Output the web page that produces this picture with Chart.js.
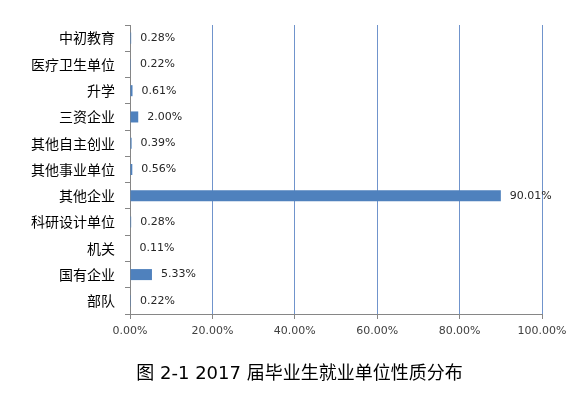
<!DOCTYPE html>
<html>
<head>
<meta charset="utf-8">
<script src="https://cdn.jsdelivr.net/npm/chart.js@4/dist/chart.umd.min.js"></script>
<style>
  html, body { margin: 0; padding: 0; background: #fff; }
  #wrap { width: 587px; height: 393px; }
</style>
</head>
<body>
<div id="wrap"><canvas id="unitChart" width="587" height="393"></canvas></div>
<script>
// categories, top to bottom
const categories = ['中初教育', '医疗卫生单位', '升学', '三资企业', '其他自主创业', '其他事业单位',
  '其他企业', '科研设计单位', '机关', '国有企业', '部队'];
// share of graduates (%)
const shares = [0.28, 0.22, 0.61, 2.00, 0.39, 0.56, 90.01, 0.28, 0.11, 5.33, 0.22];
const xTicks = [0, 20, 40, 60, 80, 100];
const chartTitle = '图 2-1 2017 届毕业生就业单位性质分布';

// value labels to the right of each bar
const barLabels = {
  id: 'barLabels',
  afterDatasetsDraw(chart) {
    const ctx = chart.ctx;
    const meta = chart.getDatasetMeta(0);
    ctx.save();
    ctx.font = '11px "DejaVu Sans"';
    ctx.fillStyle = '#262626';
    ctx.textAlign = 'left';
    ctx.textBaseline = 'middle';
    meta.data.forEach((bar, i) => {
      ctx.fillText(shares[i].toFixed(2) + '%', bar.x + 9, bar.y);
    });
    ctx.restore();
  }
};

// caption under the chart (figure caption sits a bit right of centre)
const caption = {
  id: 'caption',
  afterDraw(chart) {
    const ctx = chart.ctx;
    ctx.save();
    ctx.font = '18px "DejaVu Sans", "Noto Sans CJK SC"';
    ctx.fillStyle = '#000';
    ctx.textAlign = 'center';
    ctx.textBaseline = 'middle';
    ctx.fillText(chartTitle, chart.width / 2 + 6, 374);
    ctx.restore();
  }
};

new Chart(document.getElementById('unitChart').getContext('2d'), {
  type: 'bar',
  data: {
    labels: categories,
    datasets: [{
      data: shares,
      backgroundColor: '#4f81bd',
      borderWidth: 0,
      categoryPercentage: 1,
      barPercentage: 0.42
    }]
  },
  options: {
    indexAxis: 'y',
    responsive: false,
    animation: false,
    layout: { padding: { top: 25, right: 45, left: 0, bottom: 49 } },
    plugins: {
      legend: { display: false },
      tooltip: { enabled: false },
      title: { display: false }
    },
    scales: {
      x: {
        min: 0,
        max: 100,
        afterBuildTicks(scale) {
          scale.ticks = xTicks.map(v => ({ value: v }));
        },
        afterFit(scale) { scale.height = 30; },
        grid: {
          color: ctx => ctx.tick && ctx.tick.value === 0 ? 'rgba(0,0,0,0)' : '#7094cc',
          tickColor: '#868686',
          tickLength: 5
        },
        border: { color: '#868686' },
        ticks: {
          padding: 6,
          color: '#404040',
          font: { family: '"DejaVu Sans"', size: 11 },
          callback: v => v.toFixed(2) + '%'
        }
      },
      y: {
        afterFit(scale) { scale.width = 130; },
        grid: {
          offset: true,
          drawOnChartArea: false,
          tickColor: '#868686',
          tickLength: 5
        },
        border: { color: '#868686' },
        ticks: {
          padding: 10,
          color: '#000',
          font: { family: '"Noto Sans CJK SC"', size: 14 }
        }
      }
    }
  },
  plugins: [barLabels, caption]
});
</script>
</body>
</html>
